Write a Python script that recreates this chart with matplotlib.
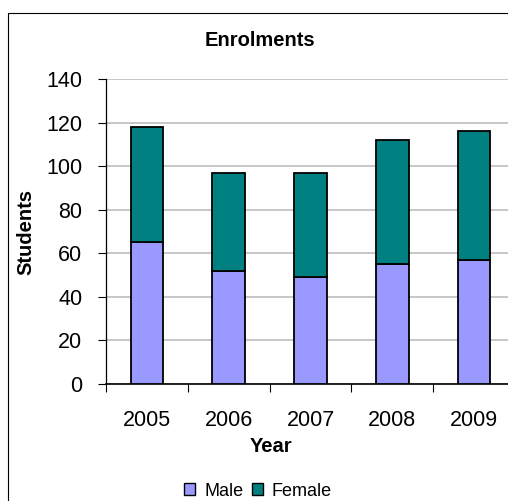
import matplotlib
matplotlib.use("Agg")
import matplotlib.pyplot as plt
from matplotlib.patches import Patch, Rectangle
import numpy as np

plt.rcParams['font.family'] = ['Liberation Sans', 'DejaVu Sans']

years = ["2005", "2006", "2007", "2008", "2009"]
male = [65, 52, 49, 55, 57]
female = [53, 45, 48, 57, 59]
y_ticks = [0, 20, 40, 60, 80, 100, 120, 140]

male_color = "#9999FF"
female_color = "#008080"

W, H = 508, 501
fig = plt.figure(figsize=(W / 100, H / 100), dpi=100)

# outer chart-area border
fig.patches.append(Rectangle((8 / W, -0.05), 1.2, 1 - 13 / H + 0.05,
                             transform=fig.transFigure, fill=False,
                             edgecolor="black", linewidth=0.8))

left, right, top, bottom = 106, 515, 79, 384
ax = fig.add_axes([left / W, 1 - bottom / H, (right - left) / W, (bottom - top) / H])

x = np.arange(len(years))
ax.bar(x, male, width=0.4, color=male_color, edgecolor="black", linewidth=1.3, zorder=3)
ax.bar(x, female, width=0.4, bottom=male, color=female_color, edgecolor="black",
       linewidth=1.3, zorder=3)

ax.set_xlim(-0.5, len(years) - 0.5)
ax.set_ylim(0, 140)
ax.set_yticks(y_ticks)
ax.set_yticklabels([str(v) for v in y_ticks])
ax.yaxis.grid(True, color="#bdbdbd", linewidth=1.2, zorder=0)
ax.set_axisbelow(True)

ax.set_xticks(x)
ax.set_xticklabels(years)
ax.set_xticks(np.arange(-0.5, len(years)), minor=True)
ax.tick_params(axis="x", which="major", length=0, pad=18.5, labelsize=15.5)
ax.tick_params(axis="x", which="minor", length=6, width=0.8, direction="out")
ax.tick_params(axis="y", length=6, width=0.8, direction="out", pad=11, labelsize=15.5)

for side in ("top", "right"):
    ax.spines[side].set_visible(False)
ax.spines["left"].set_linewidth(0.9)
ax.spines["bottom"].set_linewidth(1.2)

fig.text(259.5 / W, 1 - 40 / H, "Enrolments", ha="center", va="center",
         fontsize=14.5, fontweight="bold")
fig.text(26 / W, 1 - 232 / H, "Students", ha="center", va="center", rotation=90,
         fontsize=14.5, fontweight="bold")
fig.text(271.5 / W, 1 - 446 / H, "Year", ha="center", va="center",
         fontsize=14.5, fontweight="bold")

handles = [Patch(facecolor=male_color, edgecolor="black", linewidth=1.0, label="Male"),
           Patch(facecolor=female_color, edgecolor="black", linewidth=1.0, label="Female")]
fig.legend(handles=handles, loc="center", bbox_to_anchor=(258 / W, 1 - 491 / H),
           ncol=2, frameon=False, fontsize=13, handlelength=0.62, handleheight=0.62,
           handletextpad=0.5, columnspacing=0.45, borderpad=0)

fig.savefig("out.png", dpi=100)
